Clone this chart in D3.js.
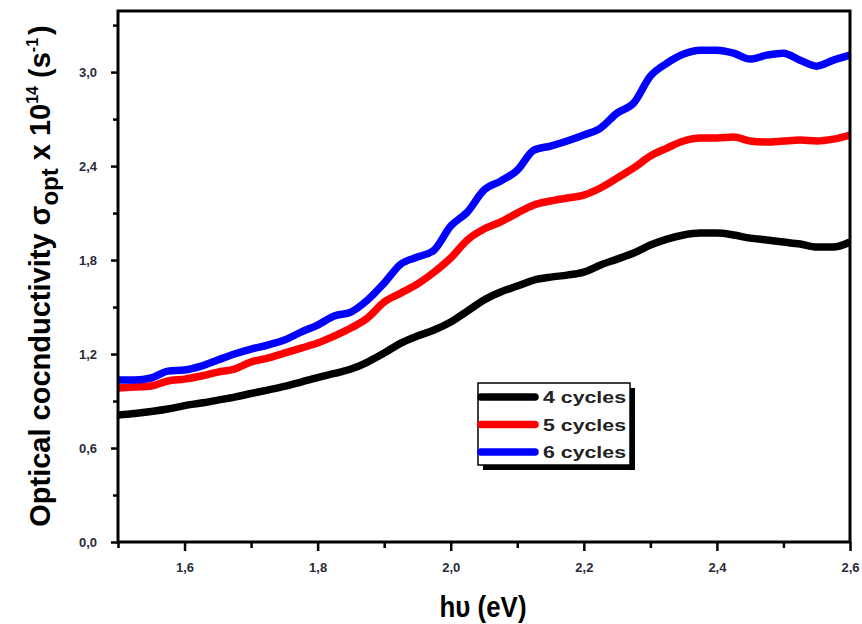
<!DOCTYPE html>
<html>
<head>
<meta charset="utf-8">
<script src="https://cdn.jsdelivr.net/npm/d3@7/dist/d3.min.js"></script>
<style>
  html, body { margin: 0; padding: 0; background: #fff; }
  svg { display: block; font-family: "Liberation Sans", Arial, sans-serif; }
</style>
</head>
<body>
<svg id="chart" width="862" height="624"></svg>
<script>
// Photon energy (eV)
const energy = [1.500,1.525,1.550,1.575,1.600,1.625,1.650,1.675,1.700,1.725,1.750,1.775,1.800,1.825,1.850,1.875,1.900,1.925,1.950,1.975,2.000,2.025,2.050,2.075,2.100,2.125,2.150,2.175,2.200,2.225,2.250,2.275,2.300,2.325,2.350,2.375,2.400,2.425,2.450,2.475,2.500,2.525,2.550,2.575,2.600];

// Optical conductivity (x 10^14 s^-1)
const cycles4 = [0.810,0.820,0.833,0.849,0.871,0.887,0.906,0.925,0.948,0.970,0.993,1.021,1.050,1.076,1.104,1.149,1.206,1.270,1.315,1.353,1.404,1.474,1.545,1.596,1.634,1.672,1.691,1.704,1.723,1.768,1.806,1.845,1.896,1.934,1.960,1.972,1.972,1.960,1.940,1.928,1.915,1.902,1.883,1.883,1.915];
const cycles5 = [0.983,0.989,0.996,1.028,1.040,1.060,1.085,1.104,1.149,1.174,1.206,1.238,1.270,1.315,1.366,1.430,1.532,1.589,1.647,1.723,1.813,1.928,1.998,2.043,2.100,2.152,2.177,2.196,2.215,2.260,2.323,2.388,2.464,2.515,2.560,2.579,2.579,2.585,2.560,2.553,2.560,2.566,2.560,2.572,2.598];
const cycles6 = [1.034,1.034,1.047,1.091,1.098,1.123,1.162,1.200,1.232,1.257,1.289,1.340,1.385,1.443,1.468,1.545,1.653,1.774,1.819,1.864,2.017,2.106,2.247,2.304,2.374,2.502,2.528,2.560,2.598,2.643,2.738,2.802,2.974,3.057,3.115,3.140,3.140,3.121,3.083,3.108,3.121,3.076,3.038,3.076,3.108];

const seriesNames = ["4 cycles", "5 cycles", "6 cycles"];
const seriesColors = ["#000000", "#ff0000", "#0000ff"];

const xTicks = [1.6, 1.8, 2.0, 2.2, 2.4, 2.6];
const xMinorTicks = [1.5, 1.7, 1.9, 2.1, 2.3, 2.5];
const yTicks = [0.0, 0.6, 1.2, 1.8, 2.4, 3.0];
const yMinorTicks = [0.3, 0.9, 1.5, 2.1, 2.7, 3.3];

const svg = d3.select("#chart");
const plotLeft = 118, plotRight = 850, plotTop = 11, plotBottom = 542;

const x = d3.scaleLinear().domain([1.5, 2.6]).range([plotLeft, plotRight]);
const y = d3.scaleLinear().domain([0, 3.39]).range([plotBottom, plotTop]);

const comma = v => d3.format(".1f")(v).replace(".", ",");

// curves
const line = d3.line()
  .x(d => x(d[0]))
  .y(d => y(d[1]))
  .curve(d3.curveMonotoneX);

const allSeries = [cycles4, cycles5, cycles6];
svg.append("defs").append("clipPath").attr("id", "plotClip")
  .append("rect").attr("x", plotLeft).attr("y", plotTop)
  .attr("width", plotRight - plotLeft).attr("height", plotBottom - plotTop);

const g = svg.append("g").attr("clip-path", "url(#plotClip)");
allSeries.forEach((vals, i) => {
  g.append("path")
    .datum(energy.map((e, k) => [e, vals[k]]))
    .attr("fill", "none")
    .attr("stroke", seriesColors[i])
    .attr("stroke-width", 7.5)
    .attr("stroke-linejoin", "round")
    .attr("d", line);
});

// frame
svg.append("rect")
  .attr("x", plotLeft).attr("y", plotTop)
  .attr("width", plotRight - plotLeft).attr("height", plotBottom - plotTop)
  .attr("fill", "none").attr("stroke", "#000").attr("stroke-width", 3);

// x axis
const xAxis = svg.append("g").attr("transform", `translate(0,${plotBottom})`)
  .call(d3.axisBottom(x).tickValues(xTicks).tickSize(9).tickFormat(comma));
const xMinor = svg.append("g").attr("transform", `translate(0,${plotBottom})`)
  .call(d3.axisBottom(x).tickValues(xMinorTicks).tickSize(6).tickFormat(""));

// y axis
const yAxis = svg.append("g").attr("transform", `translate(${plotLeft},0)`)
  .call(d3.axisLeft(y).tickValues(yTicks).tickSize(7).tickFormat(comma));
const yMinor = svg.append("g").attr("transform", `translate(${plotLeft},0)`)
  .call(d3.axisLeft(y).tickValues(yMinorTicks).tickSize(5).tickFormat(""));

[xAxis, xMinor, yAxis, yMinor].forEach(a => {
  a.select(".domain").remove();
  a.selectAll(".tick line").attr("stroke", "#000").attr("stroke-width", 2.5);
});
xAxis.selectAll(".tick text")
  .attr("y", 30).attr("dy", 0)
  .attr("fill", "#2a2a3a")
  .style("font-size", "13px").style("font-weight", "bold");
yAxis.selectAll(".tick text")
  .attr("x", -21)
  .attr("fill", "#2a2a3a")
  .style("font-size", "13px").style("font-weight", "bold");

// axis titles
svg.append("text")
  .attr("x", 483).attr("y", 617)
  .attr("text-anchor", "middle")
  .attr("textLength", 87).attr("lengthAdjust", "spacingAndGlyphs")
  .style("font-size", "29px").style("font-weight", "bold")
  .text("hυ (eV)");

const yTitle = svg.append("text")
  .attr("transform", "translate(50,276) rotate(-90)")
  .attr("text-anchor", "middle")
  .style("font-size", "29px").style("font-weight", "bold");
yTitle.append("tspan").text("Optical cocnductivity σ");
yTitle.append("tspan").attr("dy", 8).style("font-size", "24px").text("opt");
yTitle.append("tspan").attr("dy", -8).text(" x 10");
yTitle.append("tspan").attr("dy", -12).style("font-size", "16px").text("14");
yTitle.append("tspan").attr("dy", 12).text(" (s");
yTitle.append("tspan").attr("dy", -12).style("font-size", "16px").text("-1");
yTitle.append("tspan").attr("dy", 12).attr("dx", 3).text(")");

// legend
const lg = svg.append("g");
const lx = 478, ly = 383, lw = 152, lh = 82;
lg.append("rect").attr("x", lx + 5).attr("y", ly + 5).attr("width", lw).attr("height", lh).attr("fill", "#000");
lg.append("rect").attr("x", lx).attr("y", ly).attr("width", lw).attr("height", lh)
  .attr("fill", "#fff").attr("stroke", "#000").attr("stroke-width", 1.5);
seriesNames.forEach((name, i) => {
  const yy = ly + 14 + i * 27.5;
  lg.append("line")
    .attr("x1", lx + 3).attr("x2", lx + 57).attr("y1", yy).attr("y2", yy)
    .attr("stroke", seriesColors[i]).attr("stroke-width", 7.5).attr("stroke-linecap", "round");
  lg.append("text")
    .attr("x", lx + 65).attr("y", yy + 6)
    .attr("fill", "#222")
    .attr("textLength", 83).attr("lengthAdjust", "spacingAndGlyphs")
    .style("font-size", "17px").style("font-weight", "bold")
    .text(name);
});
</script>
</body>
</html>
